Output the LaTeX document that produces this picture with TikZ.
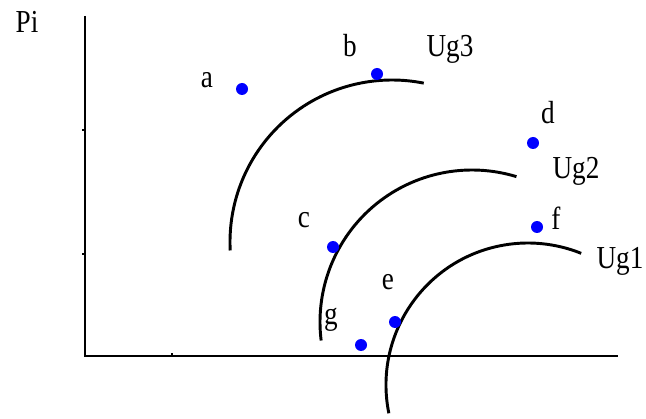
\documentclass[tikz,border=0pt]{standalone}
\usepackage{fontspec}
\setmainfont{Liberation Serif}
\begin{document}
\begin{tikzpicture}[x=0.75pt,y=0.75pt,
  axis/.style={line width=2.2pt},
  curve/.style={line width=2.2pt},
  pt/.style={circle,fill=blue,inner sep=0pt,minimum size=9pt},
  lab/.style={inner sep=0pt,font=\fontsize{24}{28}\selectfont,xscale=0.85},
  tick/.style={line width=1.5pt}]
\useasboundingbox (0,0) rectangle (646,418);
% axes
\coordinate (O) at (85,62);
\coordinate (Ytop) at (85,402);
\coordinate (Xend) at (618,62);
\draw[axis] (Ytop) -- (O) -- (Xend);
\draw[tick] (82,288) -- (85,288);
\draw[tick] (82,164) -- (85,164);
\draw[tick] (172,62) -- (172,65);
% curves
\draw[curve] ([shift={(183:162)}]392,176) arc[start angle=183,end angle=78.7,radius=162];
\draw[curve] ([shift={(187:152)}]472,96) arc[start angle=187,end angle=73,radius=152];
\draw[curve] ([shift={(191.5:142)}]528,33) arc[start angle=191.5,end angle=68,radius=142];
% points
\node[pt] (a) at (242,329) {};
\node[pt] (b) at (377,344) {};
\node[pt] (d) at (533,275) {};
\node[pt] (c) at (333,171) {};
\node[pt] (f) at (537,191) {};
\node[pt] (e) at (395,96) {};
\node[pt] (g) at (361,73) {};
% labels
\node[lab] (lPi) at (27,396) {Pi};
\node[lab] (la) at (207,338) {a};
\node[lab] (lb) at (350,372) {b};
\node[lab] (lUg3) at (450,369) {Ug3};
\node[lab] (ld) at (548,305) {d};
\node[lab] (lUg2) at (576,247) {Ug2};
\node[lab] (lc) at (304,198) {c};
\node[lab] (lf) at (556,200) {f};
\node[lab] (lUg1) at (620,157) {Ug1};
\node[lab] (le) at (388,136) {e};
\node[lab] (lg) at (331,98) {g};
\end{tikzpicture}
\end{document}
